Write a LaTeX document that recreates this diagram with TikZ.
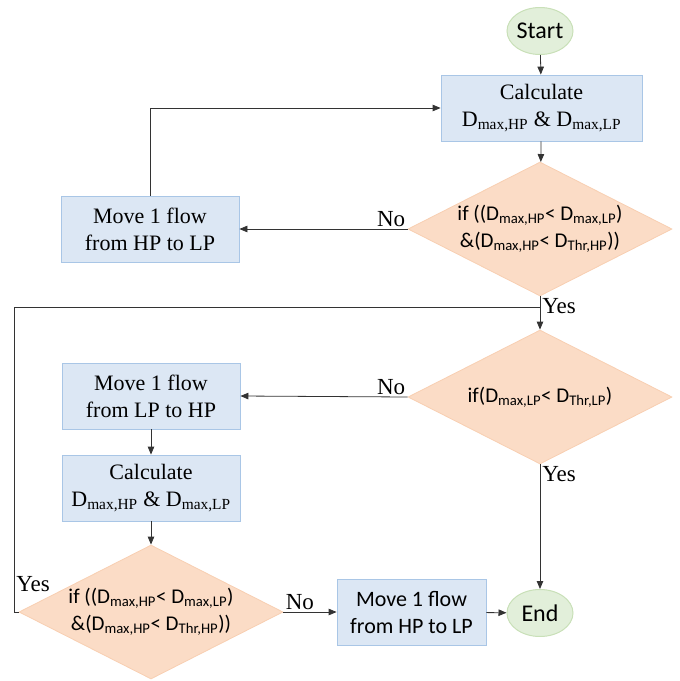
\documentclass[tikz,border=0pt]{standalone}
\usepackage{fontspec}
\setmainfont{Liberation Serif}
\newfontfamily\carlito{Carlito}
\usetikzlibrary{shapes.geometric,arrows.meta}
\definecolor{boxfill}{HTML}{DCE7F4}
\definecolor{boxdraw}{HTML}{A9C6E6}
\definecolor{dfill}{HTML}{FBDCC6}
\definecolor{ddraw}{HTML}{F8CFB2}
\definecolor{efill}{HTML}{E2EFDA}
\definecolor{edraw}{HTML}{C9E0B8}
\definecolor{linec}{HTML}{333333}
\newcommand{\sbs}[1]{\textsubscript{#1}}
\tikzset{
  pbox/.style={draw=boxdraw, fill=boxfill, line width=0.8pt, minimum height=66pt, inner sep=0pt, align=center, font=\fontsize{22}{27}\selectfont},
  dbox/.style={diamond, draw=ddraw, fill=dfill, line width=0.8pt, minimum width=264pt, minimum height=134pt, inner sep=0pt},
  dtext/.style={align=center, font=\carlito\fontsize{21}{27}\selectfont, inner sep=0pt},
  term/.style={ellipse, draw=edraw, fill=efill, line width=1pt, minimum width=66pt, minimum height=47pt, inner sep=0pt, font=\carlito\fontsize{24}{28}\selectfont},
  arr/.style={draw=linec, line width=0.8pt, -{Triangle[length=8pt,width=6.5pt]}},
  conn/.style={draw=linec, line width=0.8pt},
  lbl/.style={font=\fontsize{23}{26}\selectfont, inner sep=2pt}
}
\begin{document}
\begin{tikzpicture}[x=1pt,y=-1pt]
\useasboundingbox (0,0) rectangle (680,681);
\node[term] (start) at (540,31) {Start};
\node[pbox, minimum width=201pt] (calc1) at (541.5,108) {Calculate\\D\sbs{max,HP} \& D\sbs{max,LP}};
\node[dbox, label={[dtext]center:if ((D\sbs{max,HP}< D\sbs{max,LP})\\\&(D\sbs{max,HP}< D\sbs{Thr,HP}))}] (d1) at (540,229) {};
\node[pbox, minimum width=178pt] (m1) at (150,229) {Move 1 flow\\from HP to LP};
\node[dbox, label={[dtext]center:if(D\sbs{max,LP}< D\sbs{Thr,LP})}] (d2) at (540,397) {};
\node[pbox, minimum width=178pt] (m2) at (151,396) {Move 1 flow\\from LP to HP};
\node[pbox, minimum width=178pt] (calc2) at (151,488) {Calculate\\D\sbs{max,HP} \& D\sbs{max,LP}};
\node[dbox, label={[dtext]center:if ((D\sbs{max,HP}< D\sbs{max,LP})\\\&(D\sbs{max,HP}< D\sbs{Thr,HP}))}] (d3) at (151,612) {};
\node[pbox, minimum width=149pt, font=\carlito\fontsize{22}{27}\selectfont] (m3) at (411.5,612) {Move 1 flow\\from HP to LP};
\node[term] (endn) at (540,613) {End};
\coordinate (j) at (540,307);
\coordinate (lx) at (14,307);

\draw[arr] (start) -- (calc1);
\draw[arr] (calc1) -- (d1);
\draw[arr] (d1.west) -- node[lbl, pos=0, anchor=south east]{No} (m1.east);
\draw[arr] (m1.north) |- (calc1.west);
\draw[arr] (d1.south) -- node[lbl, pos=0, anchor=north west]{Yes} (d2.north);
\draw[conn] (d3.west) -- (d3.west -| lx) node[lbl, anchor=south west, yshift=18pt]{Yes} -- (lx) -- (j);
\draw[arr] (d2.west) -- node[lbl, pos=0, anchor=south east]{No} (m2.east);
\draw[arr] (m2) -- (calc2);
\draw[arr] (calc2) -- (d3);
\draw[arr] (d3.east) -- node[lbl, pos=0, anchor=south west]{No} (m3.west);
\draw[arr] (m3) -- (endn);
\draw[arr] (d2.south) -- node[lbl, pos=0, anchor=north west]{Yes} (endn.north);
\end{tikzpicture}
\end{document}
